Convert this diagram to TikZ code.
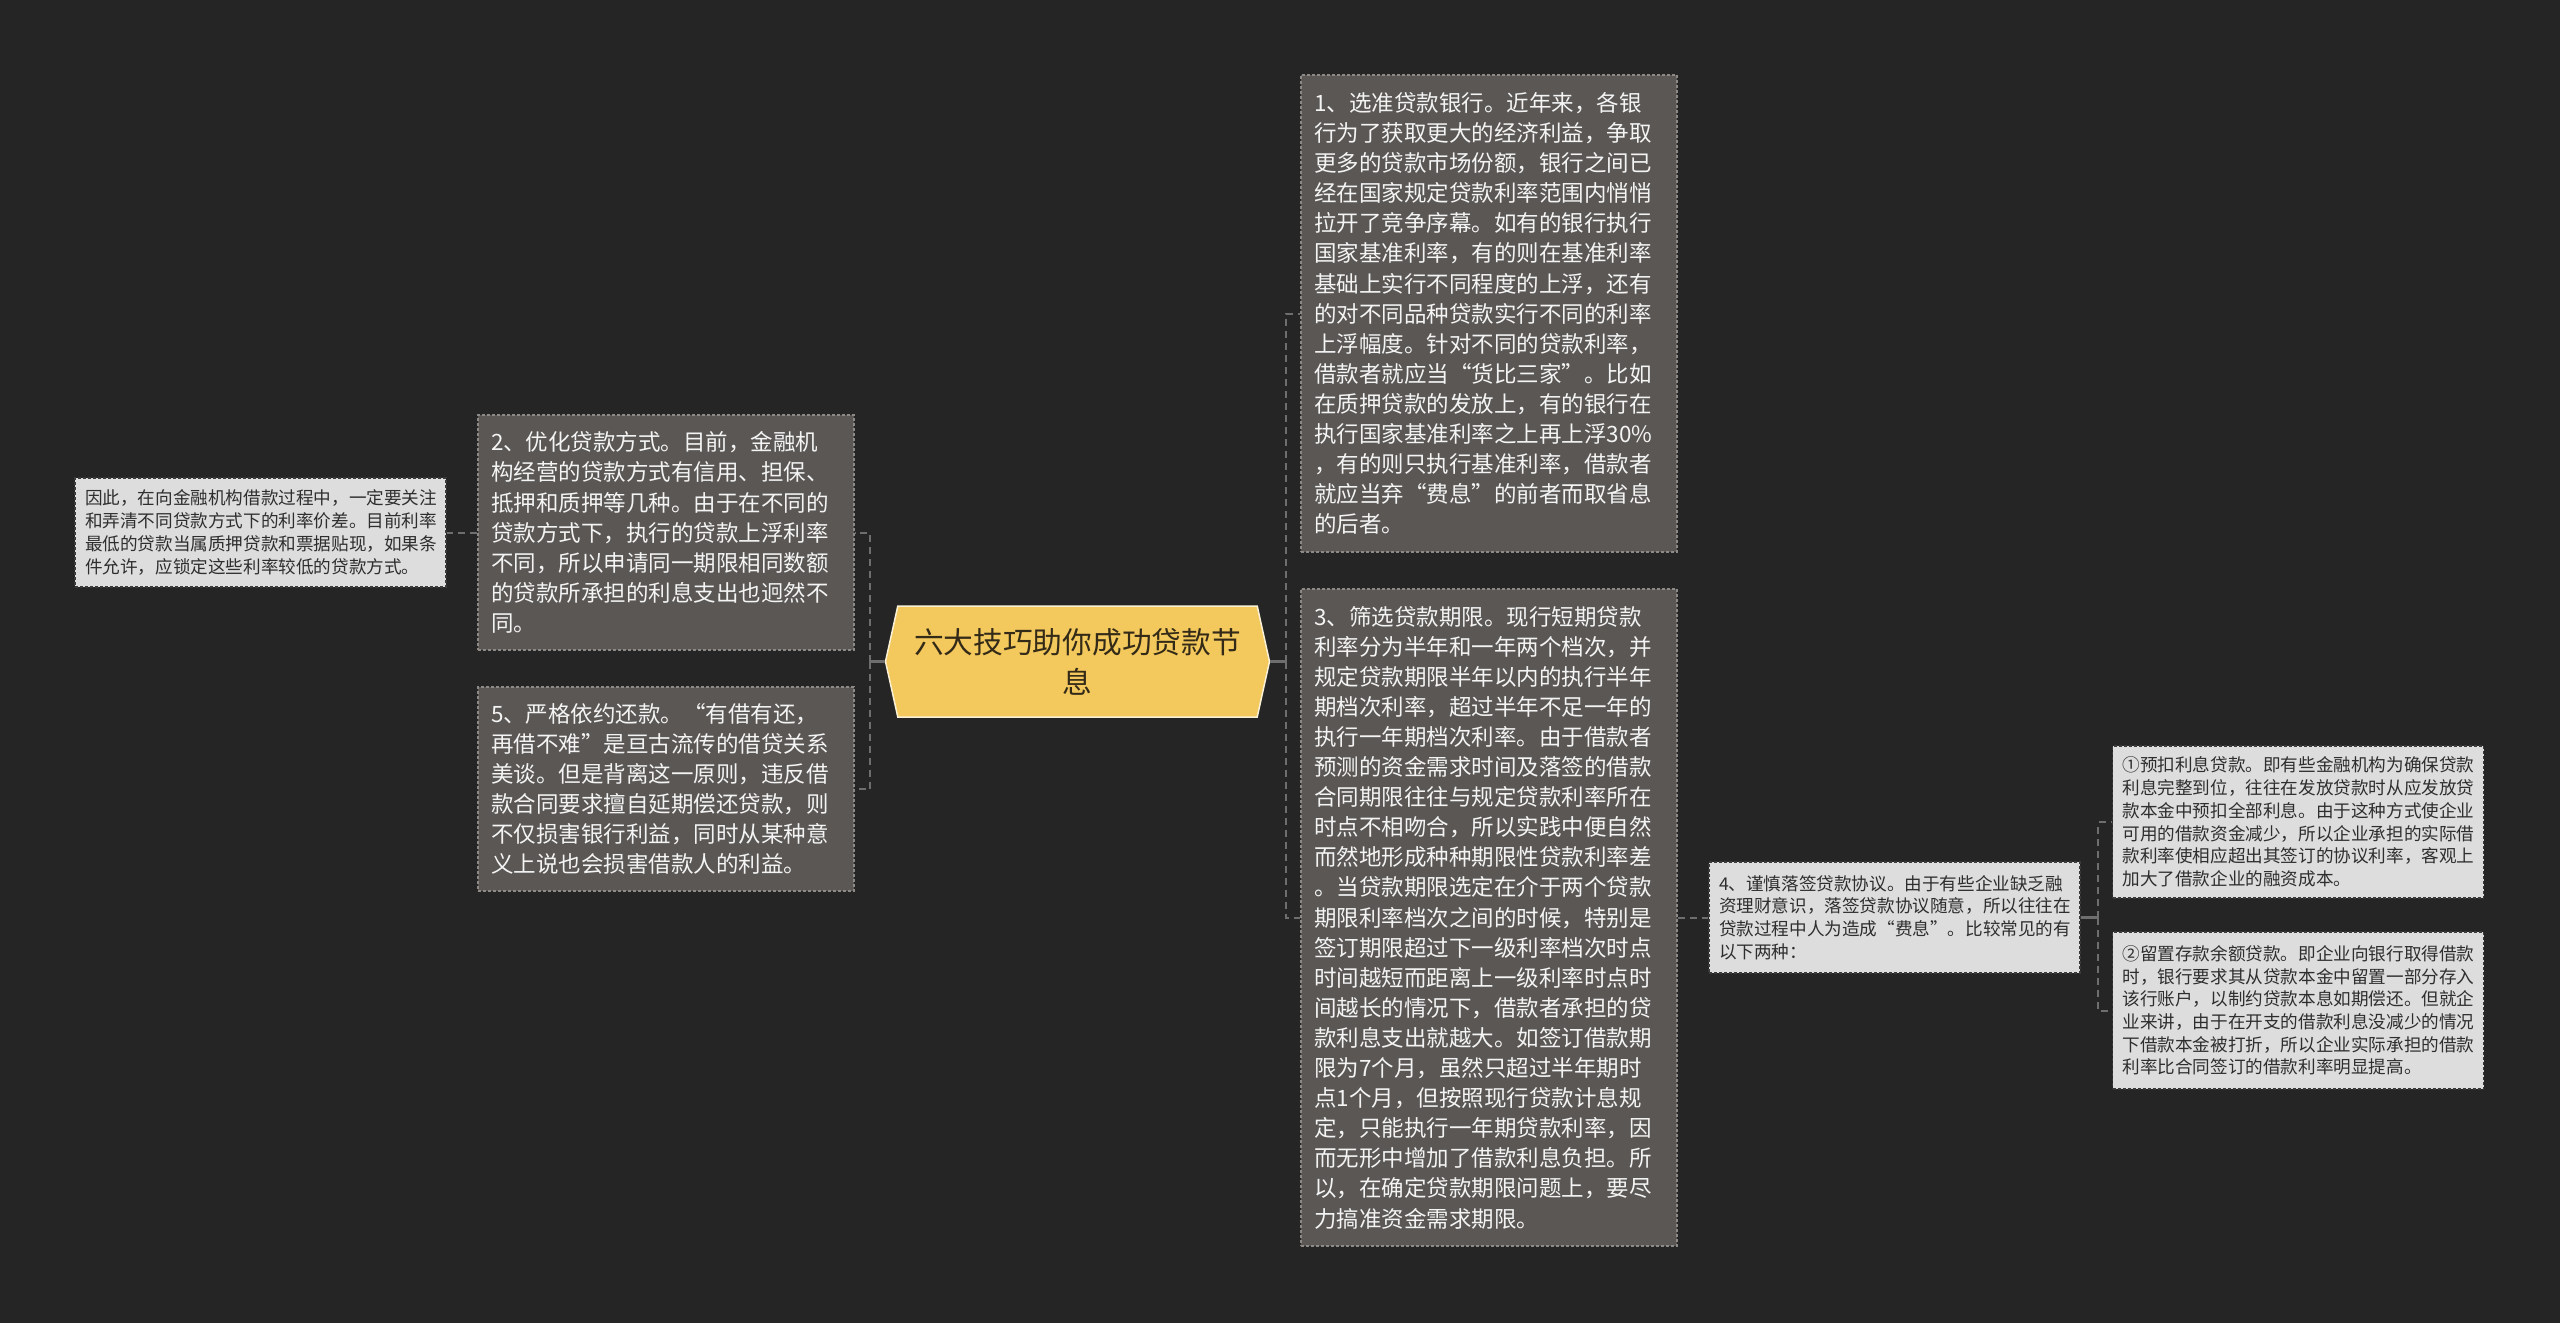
\documentclass[tikz,border=0pt]{standalone}
\usepackage{fontspec}
\setmainfont{Noto Sans CJK SC}
\usetikzlibrary{shapes.symbols}
\definecolor{bgc}{HTML}{252525}
\definecolor{darkfill}{HTML}{5A5755}
\definecolor{darkedge}{HTML}{8C8986}
\definecolor{darktext}{HTML}{F4F4F4}
\definecolor{lightfill}{HTML}{DDDDDD}
\definecolor{lightedge}{HTML}{3A3A3A}
\definecolor{lighttext}{HTML}{2E2E2E}
\definecolor{mainfill}{HTML}{F3C85C}
\definecolor{mainedge}{HTML}{FBF1D6}
\definecolor{maintext}{HTML}{332A18}
\definecolor{linec}{HTML}{6E6E6E}
\begin{document}
\begin{tikzpicture}[x=1pt,y=-1pt,
  darkbox/.style={draw=darkedge, dash pattern=on 3pt off 2pt, line width=1.2pt,
    fill=darkfill, text=darktext, align=left, inner xsep=13pt, inner ysep=0pt,
    text width=350pt, font=\fontsize{22.5}{30.1}\selectfont},
  lightbox/.style={draw=lightedge, dash pattern=on 3pt off 2pt, line width=1.2pt,
    fill=lightfill, text=lighttext, align=left, inner xsep=10pt, inner ysep=0pt,
    text width=351pt, font=\fontsize{17.6}{22.7}\selectfont},
  mainbox/.style={signal, signal to=west and east, signal pointer angle=155,
    draw=mainedge, line width=1.5pt, fill=mainfill, text=maintext, align=center,
    inner xsep=0pt, inner ysep=0pt, text width=340pt, minimum width=384pt,
    minimum height=111pt, font=\fontsize{29.7}{40}\selectfont},
  conn/.style={draw=linec, line width=2pt, dash pattern=on 7pt off 5pt},
  stub/.style={draw=linec, line width=2.5pt}
]
\useasboundingbox (0,0) rectangle (2560,1323);
\fill[bgc] (0,0) rectangle (2560,1323);

\node[mainbox] (c) at (1077.5,661.5) {六大技巧助你成功贷款节\\息};

\node[darkbox, minimum height=477pt] (n1) at (1489,313.5) {1、选准贷款银行。近年来，各银\\行为了获取更大的经济利益，争取\\更多的贷款市场份额，银行之间已\\经在国家规定贷款利率范围内悄悄\\拉开了竞争序幕。如有的银行执行\\国家基准利率，有的则在基准利率\\基础上实行不同程度的上浮，还有\\的对不同品种贷款实行不同的利率\\上浮幅度。针对不同的贷款利率，\\借款者就应当“货比三家”。比如\\在质押贷款的发放上，有的银行在\\执行国家基准利率之上再上浮30\%\\，有的则只执行基准利率，借款者\\就应当弃“费息”的前者而取省息\\的后者。};

\node[darkbox, minimum height=657pt] (n3) at (1489,917.5) {3、筛选贷款期限。现行短期贷款\\利率分为半年和一年两个档次，并\\规定贷款期限半年以内的执行半年\\期档次利率，超过半年不足一年的\\执行一年期档次利率。由于借款者\\预测的资金需求时间及落签的借款\\合同期限往往与规定贷款利率所在\\时点不相吻合，所以实践中便自然\\而然地形成种种期限性贷款利率差\\。当贷款期限选定在介于两个贷款\\期限利率档次之间的时候，特别是\\签订期限超过下一级利率档次时点\\时间越短而距离上一级利率时点时\\间越长的情况下，借款者承担的贷\\款利息支出就越大。如签订借款期\\限为7个月，虽然只超过半年期时\\点1个月，但按照现行贷款计息规\\定，只能执行一年期贷款利率，因\\而无形中增加了借款利息负担。所\\以，在确定贷款期限问题上，要尽\\力搞准资金需求期限。};

\node[darkbox, minimum height=235pt] (n2) at (666,532.5) {2、优化贷款方式。目前，金融机\\构经营的贷款方式有信用、担保、\\抵押和质押等几种。由于在不同的\\贷款方式下，执行的贷款上浮利率\\不同，所以申请同一期限相同数额\\的贷款所承担的利息支出也迥然不\\同。};

\node[darkbox, minimum height=204pt] (n5) at (666,789) {5、严格依约还款。“有借有还，\\再借不难”是亘古流传的借贷关系\\美谈。但是背离这一原则，违反借\\款合同要求擅自延期偿还贷款，则\\不仅损害银行利益，同时从某种意\\义上说也会损害借款人的利益。};

\node[lightbox, minimum height=109pt] (nl) at (260.5,532.5) {因此，在向金融机构借款过程中，一定要关注\\和弄清不同贷款方式下的利率价差。目前利率\\最低的贷款当属质押贷款和票据贴现，如果条\\件允许，应锁定这些利率较低的贷款方式。};

\node[lightbox, minimum height=111pt] (n4) at (1894.5,917.5) {4、谨慎落签贷款协议。由于有些企业缺乏融\\资理财意识，落签贷款协议随意，所以往往在\\贷款过程中人为造成“费息”。比较常见的有\\以下两种：};

\node[lightbox, minimum height=152pt] (na) at (2298,822) {①预扣利息贷款。即有些金融机构为确保贷款\\利息完整到位，往往在发放贷款时从应发放贷\\款本金中预扣全部利息。由于这种方式使企业\\可用的借款资金减少，所以企业承担的实际借\\款利率使相应超出其签订的协议利率，客观上\\加大了借款企业的融资成本。};

\node[lightbox, minimum height=157pt] (nb) at (2298,1010.5) {②留置存款余额贷款。即企业向银行取得借款\\时，银行要求其从贷款本金中留置一部分存入\\该行账户，以制约贷款本息如期偿还。但就企\\业来讲，由于在开支的借款利息没减少的情况\\下借款本金被打折，所以企业实际承担的借款\\利率比合同签订的借款利率明显提高。};

% connectors
\coordinate (jr) at (1286,661.5);
\coordinate (jl) at (870,661.5);
\coordinate (j4) at (2098,917.5);
\draw[stub] (c.east) -- (jr);
\draw[conn] (jr) |- (n1.west);
\draw[conn] (jr) |- (n3.west);
\draw[stub] (c.west) -- (jl);
\draw[conn] (jl) |- (n2.east);
\draw[conn] (jl) |- (n5.east);
\draw[conn] (n2.west) -- (nl.east);
\draw[conn] (n3.east) -- (n4.west);
\draw[stub] (n4.east) -- (j4);
\draw[conn] (j4) |- (na.west);
\draw[conn] (j4) |- (nb.west);
\end{tikzpicture}
\end{document}
